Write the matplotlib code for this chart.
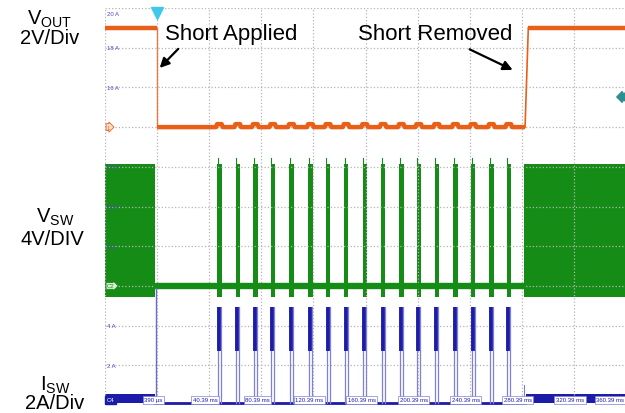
import numpy as np
import matplotlib.pyplot as plt

plt.rcParams['font.family'] = ['Liberation Sans', 'DejaVu Sans']
plt.rcParams['mathtext.fontset'] = 'custom'
plt.rcParams['mathtext.rm'] = 'Liberation Sans'
plt.rcParams['mathtext.it'] = 'Liberation Sans'

# time base: ms relative to the moment the short is applied
time_labels = ["390 µs", "40.39 ms", "80.39 ms", "120.39 ms", "160.39 ms",
               "200.39 ms", "240.39 ms", "280.39 ms", "320.39 ms", "360.39 ms"]
grid_t = [0, 40, 80, 120, 160, 200, 240, 280, 320, 360]
t_short_on = 0.0
t_short_off = 282.5
# hiccup restart attempts during the short
pulse_t = [46.3, 60.4, 73.9, 87.3, 101.6, 116.2, 129.7, 143.6, 157.9,
           172.0, 186.0, 199.4, 213.2, 227.5, 241.1, 255.1, 268.5]

# levels
vout_high = 5.0
vout_low = 0.0
vout_bump = 0.15
vsw_high = 12.3
vsw_low = -1.1
vsw_spike = 12.9
isw_peak = 4.85
isw_bar_low = 2.6
isw_spike = 5.8
isw_idle = 0.45

# channel offsets (div) and scales (unit/div)
vout_off, vout_div = 7.0, 2.0
vsw_off, vsw_div = 3.0, 4.0
isw_off, isw_div = 0.05, 2.0

scale_labels = ["20 A", "18 A", "16 A", "12 A", "10 A", "8 A", "4 A", "2 A"]
scale_rows = [9.85, 9.0, 8.0, 6.0, 5.0, 4.0, 2.0, 1.0]

ORANGE = '#ea5f17'
GREEN = '#158c15'
BLUE = '#1c1ca8'
PALE = '#8080d8'


def vo(v):
    return vout_off + np.asarray(v) / vout_div


def vs(v):
    return vsw_off + np.asarray(v) / vsw_div


def isw(i):
    return isw_off + np.asarray(i) / isw_div


fig = plt.figure(figsize=(6.25, 4.14), dpi=100)
ax = fig.add_axes([105 / 625, 8 / 414, 521 / 625, 397 / 414])
ax.set_xlim(-40, 360)
ax.set_ylim(0, 10)
ax.set_xticks([-40] + grid_t)
ax.set_yticks(range(11))
ax.tick_params(length=0, labelbottom=False, labelleft=False)
for s in ax.spines.values():
    s.set_visible(False)
ax.grid(True, ls=':', color='#b4b4b4', lw=0.9)

# ---- Vsw (green)
ax.fill_between([-40, -1.5], vs(vsw_low), vs(vsw_high), color=GREEN, lw=0)
ax.fill_between([t_short_off - 0.7, 360], vs(vsw_low), vs(vsw_high), color=GREEN, lw=0)
ax.plot([-1.5, t_short_off], vs([0, 0]), color=GREEN, lw=4.6, solid_capstyle='butt')
for p in pulse_t:
    ax.fill_between([p, p + 3.2], vs(vsw_low), vs(vsw_high), color=GREEN, lw=0)
    ax.plot([p + 0.3, p + 0.3], vs([vsw_high, vsw_spike]), color=GREEN, lw=0.8)

# ---- Vout (orange)
ax.plot([-40, t_short_on], vo([vout_high, vout_high]), color=ORANGE, lw=3.2,
        solid_capstyle='butt')
ax.plot([t_short_on, t_short_on], vo([vout_high, vout_low]), color=ORANGE, lw=1.0, alpha=0.8)
vt = [t_short_on]
vv = [vout_low]
for p in pulse_t:
    vt += [p - 1.0, p - 0.3, p + 3.3, p + 4.0]
    vv += [vout_low, vout_bump, vout_bump, vout_low]
vt.append(t_short_off)
vv.append(vout_low)
ax.plot(vt, vo(vv), color=ORANGE, lw=3.2, solid_capstyle='butt')
ax.plot([t_short_off, t_short_off + 2.5], vo([vout_low, vout_high]), color=ORANGE, lw=1.2)
ax.plot([t_short_off + 2.5, 360], vo([vout_high, vout_high]), color=ORANGE, lw=3.2,
        solid_capstyle='butt')

# ---- Isw (blue)
ax.fill_between([-40, -1.5], isw(0), isw(isw_idle), color=BLUE, lw=0)
ax.fill_between([t_short_off + 1, 360], isw(0), isw(isw_idle), color=BLUE, lw=0)
ax.plot([t_short_on - 0.8, t_short_on - 0.8], isw([0, isw_spike]), color='#6a6ad0', lw=1.0)
ax.plot([-1.5, t_short_off], isw([0, 0]), color=BLUE, lw=2.0)
for p in pulse_t:
    ax.plot([p + 1.2, p + 1.2], isw([isw_bar_low, isw_peak]), color=BLUE, lw=2.8,
            solid_capstyle='butt')
    ax.plot([p + 0.4, p + 0.4], isw([0, isw_bar_low]), color=PALE, lw=0.9)
    ax.plot([p + 2.8, p + 2.8], isw([0, isw_peak]), color=PALE, lw=0.9)
ax.plot([t_short_off - 0.5, t_short_off - 0.5], isw([0, 0.9]), color=PALE, lw=0.8)

# time labels on the bottom strip
for t, lab in zip(grid_t, time_labels):
    tx, ha = (t - 3, 'center') if t < 360 else (358.5, 'right')
    ax.text(tx, 0.13, lab, fontsize=4.3, color=BLUE, ha=ha, va='center',
            bbox=dict(boxstyle='square,pad=0.25', fc='white', ec=PALE, lw=0.5))
ax.text(-38.5, 0.13, 'C4', fontsize=4.3, color='white', ha='left', va='center',
        bbox=dict(boxstyle='square,pad=0.3', fc=BLUE, ec=BLUE))

# channel scale labels
for r, lab in zip(scale_rows, scale_labels):
    ax.text(-38.5, r, lab, fontsize=4.3, color='#4a4ac8', ha='left', va='center')

# reference markers
ax.text(-38.5, vout_off, '1', fontsize=4.3, color=ORANGE, ha='left', va='center',
        bbox=dict(boxstyle='rarrow,pad=0.15', fc='#fde3cf', ec=ORANGE, lw=0.6))
ax.text(-38.5, vsw_off, 'C2', fontsize=4.3, color=GREEN, ha='left', va='center',
        bbox=dict(boxstyle='rarrow,pad=0.15', fc='#d8f0d8', ec=GREEN, lw=0.6))
ax.text(356, 7.76, '  ', fontsize=4.3, ha='left', va='center',
        bbox=dict(boxstyle='larrow,pad=0.2', fc='#2f8f8f', ec='#2f8f8f'))
ax.plot(t_short_on, 9.88, marker='v', color='#40c8e8', ms=8, clip_on=False)

# annotations
ax.text(6.1, 9.21, 'Short Applied', fontsize=16, va='baseline', ha='left')
ax.text(272.6, 9.21, 'Short Removed', fontsize=16, va='baseline', ha='right')
ax.annotate('', xy=(t_short_on + 0.5, 8.44), xytext=(17.7, 9.02),
            arrowprops=dict(arrowstyle='-|>', color='black', lw=1.6, mutation_scale=14))
ax.annotate('', xy=(t_short_off - 7.6, 8.41), xytext=(238, 8.99),
            arrowprops=dict(arrowstyle='-|>', color='black', lw=1.6, mutation_scale=14))

# channel names in the left margin
fs = 14.5
fig.text(50 / 625, 1 - 19 / 414, r'V$_{\mathrm{OUT}}$', fontsize=fs, ha='center', va='center')
fig.text(50 / 625, 1 - 38 / 414, '2V/Div', fontsize=fs, ha='center', va='center')
fig.text(55 / 625, 1 - 217 / 414, r'V$_{\mathrm{SW}}$', fontsize=fs, ha='center', va='center')
fig.text(52 / 625, 1 - 240 / 414, '4V/DIV', fontsize=fs, ha='center', va='center')
fig.text(55 / 625, 1 - 385 / 414, r'I$_{\mathrm{SW}}$', fontsize=fs, ha='center', va='center')
fig.text(55 / 625, 1 - 404 / 414, '2A/Div', fontsize=fs, ha='center', va='center')

fig.savefig('out.png', dpi=100)
